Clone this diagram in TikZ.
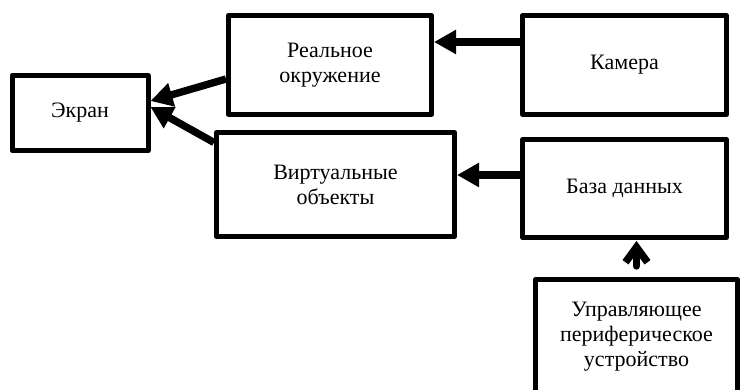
\documentclass[tikz,border=0pt]{standalone}
\usepackage{fontspec}
\setmainfont{Liberation Serif}
\usetikzlibrary{arrows.meta, positioning}
\tikzset{
  every picture/.style={font=\fontsize{11}{12.5}\selectfont, line width=2.5pt},
  block/.style={draw=black, fill=white, line join=round, align=center, inner sep=2pt},
  arrow/.style={-{Triangle[length=11pt, width=11.5pt]}, draw=black, line width=3.7pt},
  barb/.style={-{Straight Barb[length=7.5pt, width=11pt]}, draw=black, line width=3.7pt, line cap=round},
}

\begin{document}
\begin{tikzpicture}[x=0.5pt, y=-0.5pt]
  \clip (0, 0) rectangle (741, 390);
  \node[block, minimum width=68pt, minimum height=37.5pt] (scr) at (80, 113) {Экран};
  \node[block, minimum width=101.5pt, minimum height=49.5pt] (real) at (330, 65) {Реальное\\окружение};
  \node[block, minimum width=102pt, minimum height=49.5pt] (cam) at (624.5, 65) {Камера};
  \node[block, minimum width=119pt, minimum height=52pt] (virt) at (335.5, 184.5) {Виртуальные\\объекты};
  \node[block, minimum width=102pt, minimum height=49pt] (db) at (624.5, 188.5) {База данных};
  \node[block, minimum width=101pt, minimum height=57.5pt] (ctl) at (636.5, 337) {Управляющее\\периферическое\\устройство};
  \draw[arrow] ([yshift=11.5pt]cam.west) -- ([yshift=11.5pt]real.east);
  \draw[arrow] ([yshift=6.75pt]db.west) -- ([yshift=4.75pt]virt.east);
  \draw[arrow] ([yshift=-7pt]real.west) -- ([yshift=6pt]scr.east);
  \draw[arrow] ([yshift=21pt]virt.west) -- ([yshift=3pt]scr.east);
  \draw[barb] ([yshift=5.5pt]ctl.north) -- ([yshift=-0.5pt]ctl.north |- db.south);
\end{tikzpicture}
\end{document}
